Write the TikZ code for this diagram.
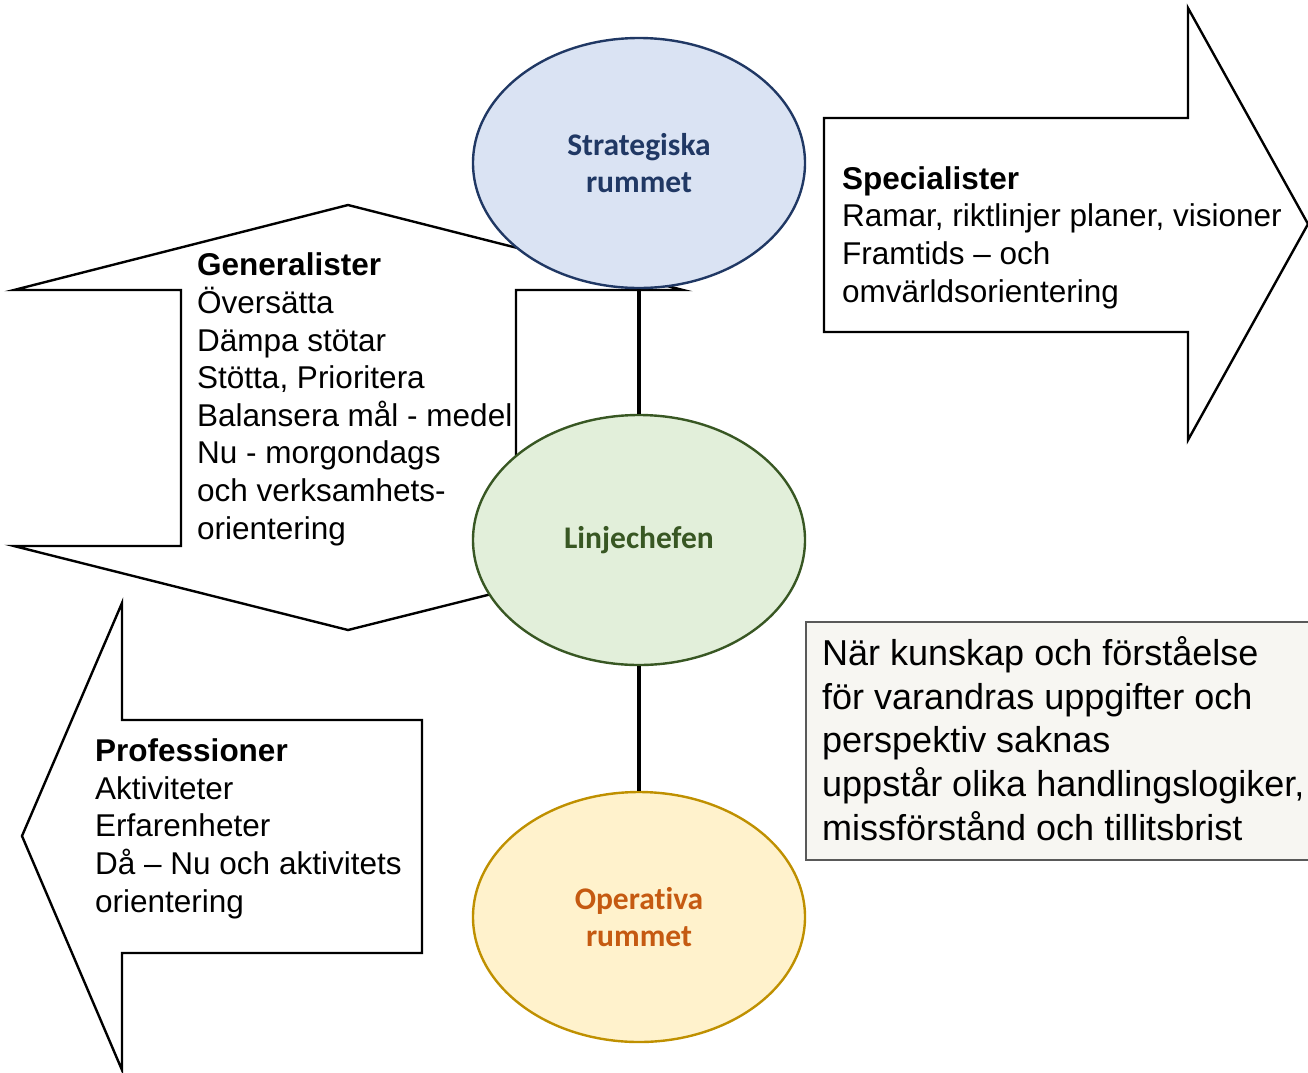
\documentclass[tikz,border=0pt]{standalone}
\usepackage{fontspec}
\setmainfont{Liberation Sans}
\newfontfamily\carlito[Ligatures=NoCommon]{Carlito}
\usetikzlibrary{shapes.geometric}

\definecolor{stratfill}{HTML}{DAE3F3}
\definecolor{stratline}{HTML}{203864}
\definecolor{linjefill}{HTML}{E2EFDA}
\definecolor{linjeline}{HTML}{385723}
\definecolor{operfill}{HTML}{FFF2CC}
\definecolor{operline}{HTML}{BF9000}
\definecolor{opertext}{HTML}{C55A11}
\definecolor{notefill}{HTML}{F7F6F2}
\definecolor{noteline}{HTML}{595959}

\tikzset{
  bigarrow/.style={draw=black, fill=white, line width=2.4pt, line join=miter},
  room/.style={ellipse, minimum width=332pt, minimum height=250pt, inner sep=0pt,
    line width=2.4pt, align=center, font=\carlito\bfseries\fontsize{31.5}{37}\selectfont},
  conn/.style={line width=4.2pt, draw=black},
  % text blocks are placed by the baseline of their last line
  listtext/.style={anchor=base west, inner sep=0pt, align=left,
    font=\fontsize{31.5}{37.6}\selectfont},
  notetext/.style={anchor=base west, inner sep=0pt, align=left,
    font=\fontsize{36}{43.6}\selectfont},
}

\begin{document}
\begin{tikzpicture}[x=1pt,y=-1pt]
\useasboundingbox (0,0) rectangle (1308,1072);

% up-down arrow behind the middle column
\draw[bigarrow] (14,290) -- (348,205) -- (683,290) -- (516,290) -- (516,546)
  -- (683,546) -- (348,630) -- (14,546) -- (181,546) -- (181,290) -- cycle;

% arrow pointing right
\draw[bigarrow] (824,118) -- (1188,118) -- (1188,8) -- (1308,224) -- (1188,440)
  -- (1188,332) -- (824,332) -- cycle;

% arrow pointing left
\draw[bigarrow] (422,720) -- (122,720) -- (122,603) -- (22,836) -- (122,1070)
  -- (122,953) -- (422,953) -- cycle;

% note box
\draw[draw=noteline, fill=notefill, line width=2.4pt] (806,622) rectangle (1330,860);

% the three rooms
\node[room, fill=stratfill, draw=stratline, text=stratline] (strat) at (639,163) {Strategiska\\rummet};
\node[room, fill=linjefill, draw=linjeline, text=linjeline] (linje) at (639,540) {\raisebox{-3pt}{Linjechefen}};
\node[room, fill=operfill, draw=operline, text=opertext] (oper) at (639,917) {Operativa\\rummet};

\draw[conn] (strat.south) -- (linje.north);
\draw[conn] (linje.south) -- (oper.north);

% texts
\node[listtext] (gen) at (197,539) {\textbf{Generalister}\\Översätta\\Dämpa stötar\\Stötta, Prioritera\\Balansera mål - medel\\Nu - morgondags\\och verksamhets-\\orientering};
\node[listtext] (spec) at (842,302) {\textbf{Specialister}\\Ramar, riktlinjer planer, visioner\\Framtids – och\\omvärldsorientering};
\node[listtext] (prof) at (95,912) {\textbf{Professioner}\\Aktiviteter\\Erfarenheter\\Då – Nu och aktivitets\\orientering};
\node[notetext] (note) at (822,840) {När kunskap och förståelse\\för varandras uppgifter och\\perspektiv saknas\\uppstår olika handlingslogiker,\\missförstånd och tillitsbrist};
\end{tikzpicture}
\end{document}
